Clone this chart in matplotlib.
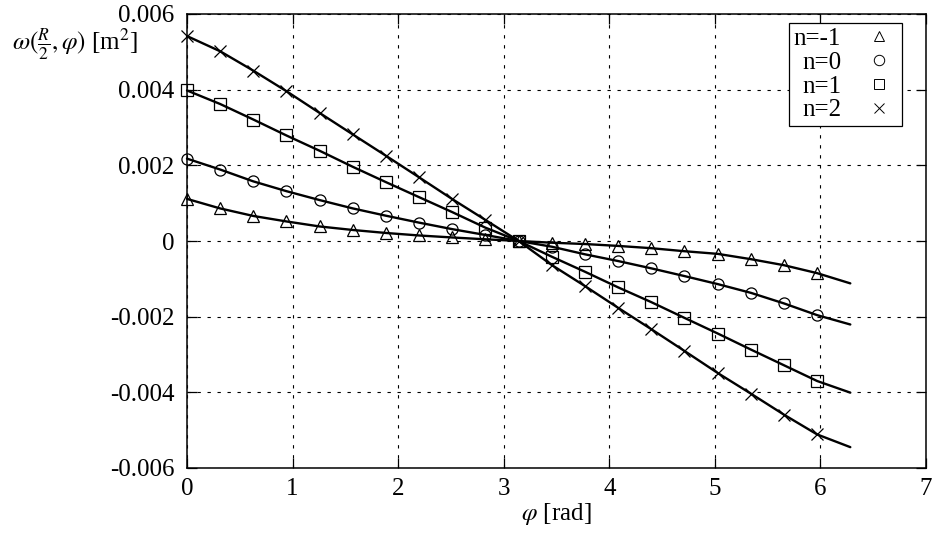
import matplotlib
matplotlib.use("Agg")
import matplotlib.pyplot as plt
from matplotlib.lines import Line2D

plt.rcParams["font.family"] = ["Liberation Serif", "STIXGeneral", "DejaVu Serif"]
plt.rcParams["mathtext.fontset"] = "stix"

# angle samples [rad]; markers on all but the last sample (2*pi)
phi = [0.000, 0.314, 0.628, 0.942, 1.257, 1.571, 1.885, 2.199, 2.513, 2.827,
       3.142, 3.456, 3.770, 4.084, 4.398, 4.712, 5.027, 5.341, 5.655, 5.969,
       6.283]

# omega(R/2, phi) in units of 1e-3 m^2
w_nm1 = [1.113, 0.861, 0.662, 0.517, 0.384, 0.291, 0.212, 0.146, 0.093, 0.045,
         0.000, -0.045, -0.080, -0.130, -0.190, -0.270, -0.340, -0.480, -0.640,
         -0.850, -1.120]
w_n0 = [2.177, 1.889, 1.576, 1.317, 1.081, 0.861, 0.668, 0.485, 0.313, 0.159,
        0.000, -0.151, -0.352, -0.530, -0.723, -0.927, -1.139, -1.370, -1.650,
        -1.960, -2.207]
w_n1 = [3.979, 3.621, 3.211, 2.789, 2.384, 1.960, 1.555, 1.158, 0.763, 0.352,
        0.000, -0.416, -0.813, -1.226, -1.616, -2.032, -2.445, -2.869, -3.285,
        -3.701, -4.008]
w_n2 = [5.417, 5.015, 4.503, 3.960, 3.383, 2.816, 2.252, 1.682, 1.107, 0.556,
        0.000, -0.636, -1.192, -1.767, -2.331, -2.906, -3.489, -4.034, -4.591,
        -5.113, -5.449]

labels = ["n=-1", "n=0", "n=1", "n=2"]
markers = ["^", "o", "s", "x"]
series = [w_nm1, w_n0, w_n1, w_n2]

x_ticks = [0, 1, 2, 3, 4, 5, 6, 7]
y_ticks = [-0.006, -0.004, -0.002, 0, 0.002, 0.004, 0.006]
y_ticklabels = ["-0.006", "-0.004", "-0.002", "0", "0.002", "0.004", "0.006"]

W, H = 937, 537
fig = plt.figure(figsize=(W / 100, H / 100), dpi=100)
ax = fig.add_axes([187 / W, (H - 468) / H, (926 - 187) / W, (468 - 14) / H])

for vals, mk in zip(series, markers):
    y = [v * 1e-3 for v in vals]
    ax.plot(phi, y, color="black", lw=1.7, solid_capstyle="round",
            solid_joinstyle="round", clip_on=False, zorder=3)
    ax.plot(phi[:-1], y[:-1], linestyle="none", marker=mk, ms=8,
            mfc="none", mec="black", mew=0.9, clip_on=False, zorder=4)

ax.set_xlim(0, 7)
ax.set_ylim(-0.006, 0.006)
ax.set_xticks(x_ticks)
ax.set_yticks(y_ticks)
ax.set_yticklabels(y_ticklabels)
ax.tick_params(direction="in", length=7, width=0.9, labelsize=18,
               top=True, right=True, color="black")
ax.tick_params(axis="x", pad=7)
ax.tick_params(axis="y", pad=9)
for sp in ax.spines.values():
    sp.set_linewidth(1.1)

ax.grid(True, color="black", linestyle=(0, (3, 6)), linewidth=0.8)
ax.set_axisbelow(True)

ax.set_xlabel(r"$\varphi$ [rad]", fontsize=18, labelpad=1)
fig.text(12 / W, 1 - 45 / H, r"$\omega(\frac{R}{2},\varphi)$ [m$^2$]",
         fontsize=18, ha="left", va="center")

handles = [Line2D([], [], linestyle="none", marker=m, ms=7.5, mfc="none",
                  mec="black", mew=0.7) for m in markers]
leg = ax.legend(handles, labels, loc="upper right",
                bbox_to_anchor=(901.7 / W, 1 - 22.7 / H),
                bbox_transform=fig.transFigure, fontsize=18,
                markerfirst=False, handlelength=1.4, handletextpad=0.82,
                labelspacing=0.05, borderpad=0.2, borderaxespad=0,
                fancybox=False, framealpha=1, edgecolor="black")
leg.get_frame().set_linewidth(0.9)

fig.savefig("out.png", dpi=100)
